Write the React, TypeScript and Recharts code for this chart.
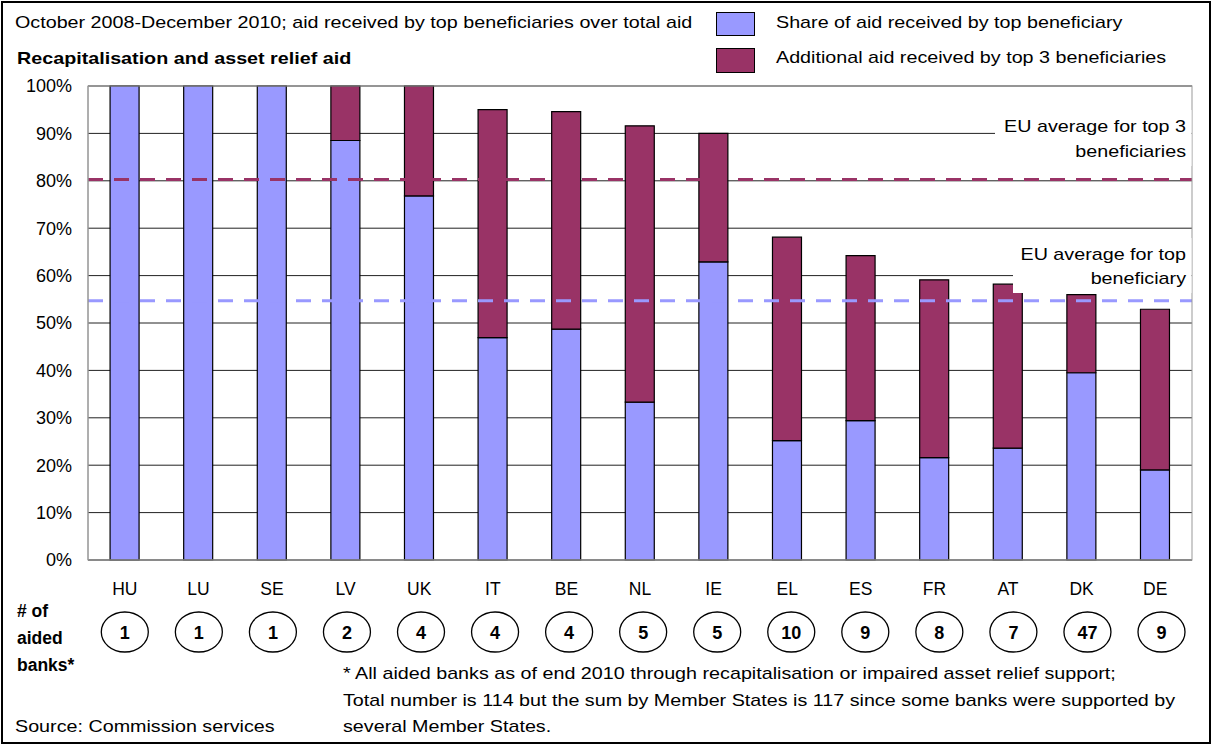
import { ComposedChart, Bar, XAxis, YAxis, CartesianGrid, ReferenceLine } from 'recharts';

const countries = ['HU', 'LU', 'SE', 'LV', 'UK', 'IT', 'BE', 'NL', 'IE', 'EL', 'ES', 'FR', 'AT', 'DK', 'DE'];
// share of aid received by the top beneficiary (%)
const topShare = [100, 100, 100, 88.5, 76.8, 46.9, 48.7, 33.3, 62.9, 25.2, 29.4, 21.6, 23.6, 39.5, 19.0];
// share received by the top 3 beneficiaries (%)
const top3Share = [100, 100, 100, 100, 100, 95.0, 94.6, 91.6, 90.0, 68.1, 64.2, 59.1, 58.2, 56.0, 52.9];
const aidedBanks = [1, 1, 1, 2, 4, 4, 4, 5, 5, 10, 9, 8, 7, 47, 9];
const yTicks = [0, 10, 20, 30, 40, 50, 60, 70, 80, 90, 100];
const euAvgTop = 54.7;
const euAvgTop3 = 80.3;

const BLUE = '#9999FF';
const MAROON = '#993366';
const FONT = '"Liberation Sans", Arial, sans-serif';

const data = countries.map((c, i) => ({
  country: c,
  top: topShare[i],
  extra: +(top3Share[i] - topShare[i]).toFixed(1),
}));

// the source picture is a bit wider than tall, so text is stretched sideways
const T = ({ x, y, anchor = 'start', bold = false, size = 17, children }: any) => (
  <text
    transform={`translate(${x},${y}) scale(1.16,1)`}
    textAnchor={anchor}
    fontSize={size}
    fontWeight={bold ? 'bold' : 'normal'}
    fontFamily={FONT}
    fill="#000"
  >
    {children}
  </text>
);

const CountryTick = (props: any) => {
  const { x, y, payload } = props;
  const i = countries.indexOf(payload.value);
  const cx = x + i * 0.45;
  return (
    <g fontFamily={FONT}>
      <text x={x} y={y + 35} textAnchor="middle" fontSize={17.5} fill="#000">{payload.value}</text>
      <ellipse cx={cx} cy={y + 72} rx={23.5} ry={20} fill="#fff" stroke="#000" strokeWidth={1.3} />
      <text x={cx} y={y + 79} textAnchor="middle" fontSize={18} fontWeight="bold" fill="#000">{aidedBanks[i]}</text>
    </g>
  );
};

// titles, legend, label boxes and frame, laid over the chart
const Annotations = () => (
  <svg width={1213} height={745} style={{ position: 'absolute', left: 0, top: 0, pointerEvents: 'none' }}>
    <rect x={88} y={86} width={1104} height={474} fill="none" stroke="#999" strokeWidth={1} />
    <rect x={995} y={110} width={196.5} height={56} fill="#fff" />
    <T x={1186} y={132} anchor="end">EU average for top 3</T>
    <T x={1186} y={157} anchor="end">beneficiaries</T>
    <rect x={1013} y={238} width={178.5} height={55} fill="#fff" />
    <T x={1186} y={260} anchor="end">EU average for top</T>
    <T x={1186} y={284} anchor="end">beneficiary</T>

    <T x={15} y={28}>October 2008-December 2010; aid received by top beneficiaries over total aid</T>
    <T x={17} y={64} bold>Recapitalisation and asset relief aid</T>

    <rect x={716.5} y={12.5} width={38} height={23} fill={BLUE} stroke="#000" />
    <T x={776} y={28}>Share of aid received by top beneficiary</T>
    <rect x={716.5} y={48.5} width={38} height={24} fill={MAROON} stroke="#000" />
    <T x={776} y={63}>Additional aid received by top 3 beneficiaries</T>

    <text fontFamily={FONT} fontSize={17.5} fontWeight="bold" fill="#000">
      <tspan x={17} y={617}># of</tspan>
      <tspan x={17} y={644}>aided</tspan>
      <tspan x={17} y={671}>banks*</tspan>
    </text>
    <T x={343} y={679}>* All aided banks as of end 2010 through recapitalisation or impaired asset relief support;</T>
    <T x={343} y={706}>Total number is 114 but the sum by Member States is 117 since some banks were supported by</T>
    <T x={343} y={732}>several Member States.</T>
    <T x={15} y={732}>Source: Commission services</T>
    <rect x={2} y={2} width={1208} height={741} fill="none" stroke="#000" strokeWidth={2} />
  </svg>
);

export default function App() {
  return (
    <div style={{ position: 'absolute', left: 0, top: 0, width: 1213, height: 745, background: '#fff' }}>
      <ComposedChart
        width={1213}
        height={745}
        data={data}
        margin={{ top: 86, right: 21, left: 8, bottom: 85 }}
        barCategoryGap="30%"
      >
        <CartesianGrid vertical={false} stroke="#222" strokeWidth={1} />
        <XAxis
          dataKey="country"
          height={100}
          interval={0}
          tickSize={0}
          tickMargin={0}
          tick={<CountryTick />}
          axisLine={{ stroke: '#666' }}
          tickLine={false}
        />
        <YAxis
          width={80}
          domain={[0, 100]}
          ticks={yTicks}
          interval={0}
          tickFormatter={(v: number) => `${v}%`}
          tickSize={0}
          tickMargin={16}
          tickLine={false}
          axisLine={{ stroke: '#888' }}
          tick={{ fill: '#000', fontSize: 18, fontFamily: FONT }}
        />
        <Bar dataKey="top" stackId="a" fill={BLUE} stroke="#000" strokeWidth={1.2} isAnimationActive={false} />
        <Bar dataKey="extra" stackId="a" fill={MAROON} stroke="#000" strokeWidth={1.2} isAnimationActive={false} />
        <ReferenceLine y={euAvgTop3} stroke={MAROON} strokeWidth={3} strokeDasharray="15 11" />
        <ReferenceLine y={euAvgTop} stroke={BLUE} strokeWidth={3} strokeDasharray="15 11" />
      </ComposedChart>
      <Annotations />
    </div>
  );
}
